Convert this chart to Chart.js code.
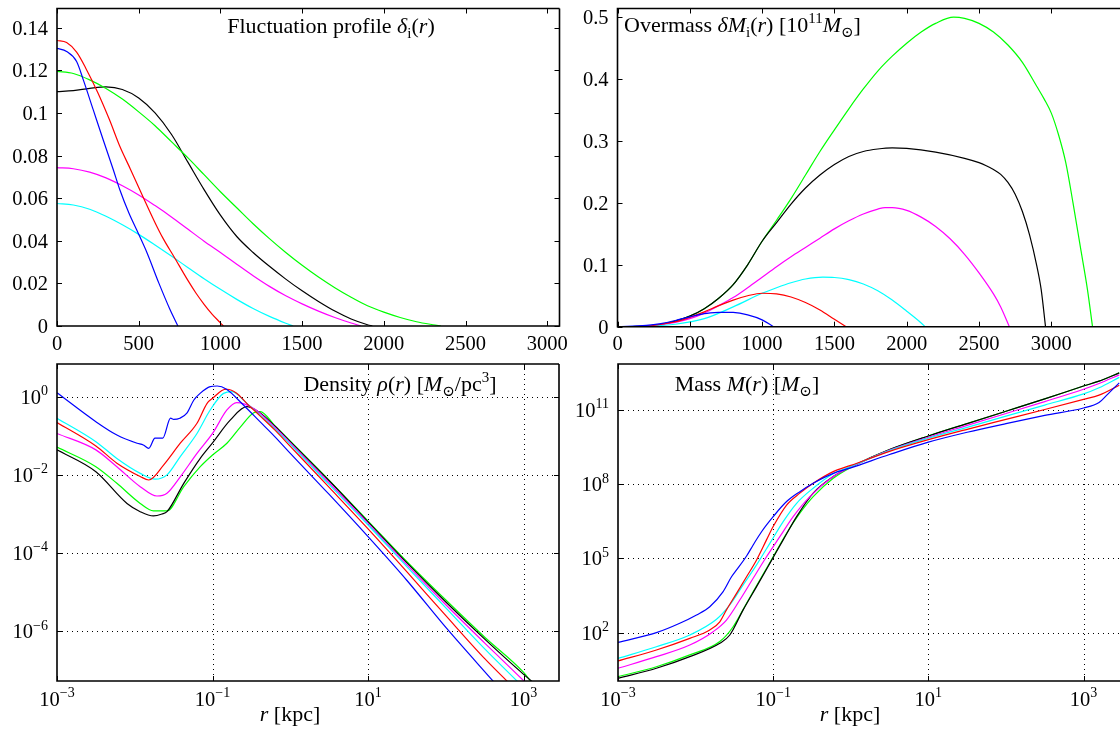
<!DOCTYPE html>
<html>
<head>
<meta charset="utf-8">
<script src="https://cdn.jsdelivr.net/npm/chart.js@4.4.1/dist/chart.umd.min.js"></script>
<style>
  body { margin: 0; background: #fff; width: 1120px; height: 729px; overflow: hidden; position: relative; }
  canvas { position: absolute; }
</style>
</head>
<body>
<canvas id="fluct" width="600" height="360" style="left:0;top:0"></canvas>
<canvas id="over" width="558" height="360" style="left:562px;top:0"></canvas>
<canvas id="dens" width="562" height="369" style="left:0;top:360px"></canvas>
<canvas id="mass" width="558" height="369" style="left:562px;top:360px"></canvas>
<script>
// ---- fluctuation profile delta_i(r), r in kpc ----
const fluctBlueR = [0, 59, 120, 161, 222, 283, 345, 385, 440, 488, 550, 624, 690, 740];
const fluctBlue = [0.1303, 0.1288, 0.1241, 0.1155, 0.1014, 0.0873, 0.0732, 0.0638, 0.053, 0.045, 0.0345, 0.02, 0.008, 0];
const fluctRedR = [0, 59, 120, 176, 250, 320, 385, 450, 526, 600, 650, 716, 800, 850, 900, 950, 1000, 1018];
const fluctRed = [0.134, 0.133, 0.1285, 0.121, 0.1095, 0.097, 0.0842, 0.0735, 0.0607, 0.0485, 0.041, 0.0325, 0.0215, 0.0155, 0.0102, 0.0055, 0.0015, 0];
const fluctGreenR = [0, 100, 200, 300, 400, 500, 600, 700, 800, 900, 1000, 1100, 1200, 1300, 1400, 1500, 1600, 1700, 1800, 1900, 2000, 2100, 2200, 2300, 2350];
const fluctGreen = [0.1195, 0.1185, 0.1155, 0.1115, 0.1065, 0.1005, 0.094, 0.0865, 0.079, 0.071, 0.063, 0.0555, 0.048, 0.041, 0.0345, 0.0285, 0.023, 0.018, 0.0135, 0.0095, 0.0065, 0.004, 0.002, 0.0006, 0];
const fluctBlackR = [0, 100, 200, 300, 400, 500, 600, 700, 800, 900, 1000, 1100, 1200, 1300, 1400, 1500, 1600, 1700, 1800, 1900, 1930];
const fluctBlack = [0.110, 0.1105, 0.1115, 0.1122, 0.111, 0.107, 0.100, 0.090, 0.077, 0.064, 0.052, 0.042, 0.0345, 0.028, 0.022, 0.0165, 0.0115, 0.007, 0.0033, 0.0006, 0];
const fluctMagentaR = [0, 100, 200, 300, 400, 500, 600, 700, 800, 900, 1000, 1100, 1200, 1300, 1400, 1500, 1600, 1700, 1800, 1860];
const fluctMagenta = [0.0743, 0.0738, 0.0722, 0.0695, 0.0658, 0.0615, 0.0565, 0.0512, 0.0455, 0.0398, 0.0345, 0.029, 0.0236, 0.0186, 0.0142, 0.0104, 0.007, 0.004, 0.0014, 0];
const fluctCyanR = [0, 100, 200, 300, 400, 500, 600, 700, 800, 900, 1000, 1100, 1200, 1300, 1400, 1445];
const fluctCyan = [0.0575, 0.0568, 0.0548, 0.0515, 0.0475, 0.043, 0.038, 0.0328, 0.0275, 0.0222, 0.0172, 0.0125, 0.0082, 0.0045, 0.0013, 0];
const fluctXTicks = [0, 500, 1000, 1500, 2000, 2500, 3000];
const fluctYTicks = [0, 0.02, 0.04, 0.06, 0.08, 0.1, 0.12, 0.14];
const fluctYLabels = ["0", "0.02", "0.04", "0.06", "0.08", "0.1", "0.12", "0.14"];

// ---- overmass dM_i(r) in 1e11 Msun ----
const overBlueR = [0, 200, 300, 400, 500, 600, 700, 750, 800, 900, 1000, 1079];
const overBlue = [0, 0.002, 0.005, 0.01, 0.016, 0.021, 0.023, 0.0232, 0.023, 0.019, 0.011, 0];
const overRedR = [0, 200, 400, 500, 600, 700, 800, 900, 1000, 1100, 1200, 1300, 1400, 1500, 1581];
const overRed = [0, 0.001, 0.008, 0.015, 0.024, 0.034, 0.043, 0.05, 0.054, 0.053, 0.048, 0.039, 0.027, 0.012, 0];
const overGreenR = [0, 100, 200, 300, 400, 500, 600, 700, 800, 900, 1000, 1100, 1200, 1300, 1400, 1500, 1600, 1700, 1800, 1900, 2000, 2100, 2200, 2325, 2400, 2500, 2600, 2700, 2800, 2900, 2950, 3000, 3050, 3100, 3150, 3200, 3250, 3285];
const overGreen = [0, 0.0003, 0.0015, 0.004, 0.009, 0.017, 0.029, 0.046, 0.068, 0.1, 0.138, 0.172, 0.207, 0.245, 0.283, 0.318, 0.352, 0.384, 0.413, 0.437, 0.458, 0.476, 0.49, 0.5, 0.498, 0.49, 0.476, 0.455, 0.427, 0.388, 0.368, 0.345, 0.31, 0.265, 0.2, 0.13, 0.06, 0];
const overBlackR = [0, 100, 200, 300, 400, 500, 600, 700, 800, 900, 1000, 1100, 1200, 1300, 1400, 1500, 1600, 1700, 1800, 1900, 2000, 2200, 2400, 2500, 2550, 2600, 2650, 2700, 2750, 2800, 2850, 2900, 2930, 2960];
const overBlack = [0, 0.0003, 0.0015, 0.004, 0.009, 0.017, 0.029, 0.046, 0.068, 0.1, 0.138, 0.168, 0.198, 0.224, 0.245, 0.262, 0.275, 0.283, 0.287, 0.2888, 0.288, 0.282, 0.272, 0.265, 0.26, 0.254, 0.246, 0.233, 0.214, 0.186, 0.148, 0.098, 0.06, 0];
const overMagentaR = [0, 200, 400, 500, 600, 700, 800, 900, 1000, 1100, 1200, 1300, 1400, 1500, 1600, 1700, 1800, 1850, 1900, 2000, 2100, 2200, 2300, 2400, 2500, 2600, 2650, 2710];
const overMagenta = [0, 0.001, 0.007, 0.013, 0.022, 0.034, 0.047, 0.063, 0.08, 0.097, 0.113, 0.128, 0.143, 0.158, 0.171, 0.182, 0.19, 0.1925, 0.1925, 0.188, 0.177, 0.162, 0.142, 0.117, 0.087, 0.053, 0.032, 0];
const overCyanR = [0, 200, 400, 600, 800, 1000, 1100, 1200, 1300, 1420, 1500, 1600, 1700, 1800, 1900, 2000, 2100, 2127];
const overCyan = [0, 0.0008, 0.004, 0.013, 0.032, 0.054, 0.063, 0.071, 0.077, 0.08, 0.0795, 0.076, 0.069, 0.058, 0.043, 0.025, 0.006, 0];
const overXTicks = [0, 500, 1000, 1500, 2000, 2500, 3000];
const overYTicks = [0, 0.1, 0.2, 0.3, 0.4, 0.5];
const overYLabels = ["0", "0.1", "0.2", "0.3", "0.4", "0.5"];

// ---- density rho(r) [Msun/pc^3], stored as log10 r [kpc] and log10 rho ----
const densBlueLogR = [-3.0, -2.5, -2.23, -1.97, -1.89, -1.82, -1.74, -1.64, -1.54, -1.5, -1.42, -1.33, -1.24, -1.16, -1.03, -0.94, -0.82, -0.6, -0.4, -0.2, 0, 0.5, 1, 1.5, 2, 2.62];
const densBlueLog = [0.10, -0.64, -0.98, -1.19, -1.235, -1.32, -1.06, -1.06, -0.55, -0.58, -0.55, -0.42, -0.085, 0.085, 0.256, 0.273, 0.19, -0.22, -0.62, -1.02, -1.45, -2.5, -3.58, -4.7, -5.9, -7.3];
const densRedLogR = [-3.0, -2.5, -2.23, -1.93, -1.82, -1.63, -1.415, -1.2, -1.07, -0.987, -0.88, -0.815, -0.69, -0.56, -0.4, -0.2, 0, 0.5, 1, 1.5, 2, 2.5, 2.8];
const densRedLog = [-0.66, -1.26, -1.7, -2.04, -2.13, -1.75, -1.19, -0.68, -0.17, -0.02, 0.16, 0.19, 0.09, -0.17, -0.47, -0.85, -1.27, -2.32, -3.38, -4.48, -5.6, -6.7, -7.3];
const densCyanLogR = [-3.0, -2.5, -2.23, -1.93, -1.736, -1.586, -1.415, -1.2, -1.03, -0.858, -0.75, -0.56, -0.4, -0.2, 0, 0.5, 1, 1.5, 2, 2.5, 2.93];
const densCyanLog = [-0.55, -1.15, -1.58, -1.96, -2.11, -2.0, -1.53, -0.94, -0.34, 0.085, 0.128, -0.17, -0.45, -0.82, -1.22, -2.25, -3.28, -4.35, -5.4, -6.45, -7.3];
const densMagentaLogR = [-3.0, -2.5, -2.23, -1.93, -1.715, -1.586, -1.415, -1.2, -1.0, -0.815, -0.69, -0.47, -0.2, 0, 0.5, 1, 1.5, 2, 2.5, 3.02];
const densMagentaLog = [-0.94, -1.36, -1.79, -2.3, -2.54, -2.47, -2.05, -1.45, -0.94, -0.34, -0.15, -0.30, -0.78, -1.18, -2.2, -3.24, -4.3, -5.32, -6.3, -7.3];
const densGreenLogR = [-3.0, -2.5, -2.23, -1.93, -1.76, -1.586, -1.37, -1.158, -1.0, -0.815, -0.64, -0.47, -0.387, -0.2, 0, 0.5, 1, 1.5, 2, 2.5, 3, 3.1];
const densGreenLog = [-1.29, -1.79, -2.215, -2.73, -2.92, -2.92, -2.3, -1.79, -1.49, -1.19, -0.77, -0.41, -0.38, -0.74, -1.14, -2.14, -3.18, -4.22, -5.2, -6.15, -7.05, -7.3];
const densBlackLogR = [-3.0, -2.5, -2.1, -1.93, -1.76, -1.65, -1.586, -1.37, -1.158, -1.0, -0.773, -0.56, -0.4, -0.2, 0, 0.5, 1, 1.5, 2, 2.5, 3, 3.12];
const densBlackLog = [-1.36, -1.92, -2.73, -2.94, -3.05, -3.0, -2.94, -2.215, -1.575, -1.18, -0.6, -0.255, -0.4, -0.75, -1.15, -2.15, -3.2, -4.25, -5.25, -6.2, -7.1, -7.3];
const densXExp = [-3, -1, 1, 3];
const densYExp = [-6, -4, -2, 0];

// ---- enclosed mass M(r) [Msun], stored as log10 r [kpc] and log10 M ----
const massBlueLogR = [-3.0, -2.505, -2.204, -1.988, -1.817, -1.645, -1.537, -1.472, -1.343, -1.258, -1.15, -1.0, -0.827, -0.656, -0.484, -0.226, 0, 0.5, 1, 1.5, 2, 2.5, 3, 3.2, 3.3, 3.46];
const massBlueLog = [1.61, 2.0, 2.38, 2.715, 3.05, 3.66, 4.26, 4.535, 5.1, 5.545, 6.08, 6.69, 7.3, 7.7, 8.04, 8.44, 8.66, 9.2, 9.7, 10.1, 10.45, 10.78, 11.08, 11.3, 11.6, 12.1];
const massRedLogR = [-3.0, -2.505, -2.075, -1.817, -1.688, -1.602, -1.472, -1.343, -1.214, -1.086, -1.0, -0.827, -0.656, -0.484, -0.226, 0, 0.5, 1, 1.5, 2, 2.5, 3, 3.2, 3.46];
const massRedLog = [0.855, 1.3, 1.77, 2.11, 2.44, 2.92, 3.59, 4.26, 4.94, 5.75, 6.29, 7.16, 7.64, 8.04, 8.51, 8.76, 9.33, 9.8, 10.22, 10.62, 11.02, 11.43, 11.6, 12.0];
const massCyanLogR = [-3.0, -2.505, -2.075, -1.73, -1.559, -1.387, -1.214, -1.043, -0.871, -0.698, -0.484, -0.226, 0, 0.5, 1, 1.5, 2, 2.5, 3, 3.2, 3.46];
const massCyanLog = [0.96, 1.43, 1.905, 2.54, 3.12, 3.93, 4.74, 5.61, 6.49, 7.23, 7.84, 8.42, 8.72, 9.36, 9.86, 10.3, 10.75, 11.2, 11.65, 11.9, 12.32];
const massMagentaLogR = [-3.0, -2.505, -2.075, -1.774, -1.602, -1.43, -1.258, -1.086, -0.914, -0.742, -0.527, -0.226, 0, 0.5, 1, 1.5, 2, 2.5, 3, 3.2, 3.46];
const massMagentaLog = [0.56, 1.03, 1.5, 2.04, 2.51, 3.32, 4.2, 5.07, 5.88, 6.69, 7.5, 8.31, 8.69, 9.38, 9.9, 10.38, 10.86, 11.34, 11.84, 12.07, 12.42];
const massGreenLogR = [-3.0, -2.505, -2.075, -1.688, -1.516, -1.343, -1.172, -1.0, -0.827, -0.656, -0.484, -0.226, 0, 0.5, 1, 1.5, 2, 2.5, 3, 3.2, 3.46];
const massGreenLog = [0.22, 0.62, 1.1, 1.64, 2.24, 3.19, 4.13, 5.07, 6.02, 6.83, 7.5, 8.24, 8.68, 9.4, 9.95, 10.45, 10.95, 11.45, 11.97, 12.17, 12.5];
const massBlackLogR = [-3.0, -2.505, -2.075, -1.688, -1.559, -1.387, -1.214, -1.043, -0.871, -0.698, -0.484, -0.226, 0, 0.5, 1, 1.5, 2, 2.5, 3, 3.2, 3.46];
const massBlackLog = [0.155, 0.56, 1.03, 1.57, 1.905, 2.92, 3.86, 4.8, 5.75, 6.69, 7.64, 8.31, 8.7, 9.4, 9.95, 10.45, 10.95, 11.45, 11.97, 12.17, 12.5];
const massXExp = [-3, -1, 1, 3];
const massYExp = [2, 5, 8, 11];

const COLORS = { blue: "#0000ff", red: "#ff0000", green: "#00ff00", black: "#000000", magenta: "#ff00ff", cyan: "#00ffff" };
const FONT = '"Liberation Serif", "DejaVu Serif", serif';
const TICK_SIZE = 20.5;
const TITLE_SIZE = 22;

function pts(xs, ys) {
  return xs.map((x, i) => ({ x: x, y: ys[i] }));
}
function logPts(lx, ly) {
  return lx.map((x, i) => ({ x: Math.pow(10, x), y: Math.pow(10, ly[i]) }));
}
function line(color, data) {
  return {
    data: data, borderColor: color, borderWidth: 1.2, pointRadius: 0,
    fill: false, cubicInterpolationMode: "monotone"
  };
}

// draw text made of pieces: [text, style] with style "", "i", "sub", "sup"
function rich(ctx, segs, x, y, align, size) {
  const small = Math.round(size * 0.7);
  const font = s => (s[1] === "i" ? "italic " : "") + (s[1] === "sub" || s[1] === "sup" ? small : size) + "px " + FONT;
  let w = 0;
  segs.forEach(s => { ctx.font = font(s); w += ctx.measureText(s[0]).width; });
  let cx = align === "center" ? x - w / 2 : align === "right" ? x - w : x;
  ctx.textAlign = "left";
  ctx.textBaseline = "alphabetic";
  segs.forEach(s => {
    ctx.font = font(s);
    const dy = s[1] === "sub" ? size * 0.22 : s[1] === "sup" ? -size * 0.42 : 0;
    ctx.fillText(s[0], cx, y + dy);
    cx += ctx.measureText(s[0]).width;
  });
}

const pow10Label = e => [["10", ""], [(e < 0 ? "\u2212" + (-e) : String(e)), "sup"]];

// frame, inward ticks, dotted grid, labels and titles (matplotlib look)
function axesPlugin(d) {
  return {
    id: "axes",
    beforeDatasetsDraw(chart) {
      if (!d.grid) return;
      const { ctx, chartArea: a } = chart;
      const xs = chart.scales.x, ys = chart.scales.y;
      ctx.save();
      ctx.strokeStyle = "#000";
      ctx.lineWidth = 1;
      ctx.setLineDash([1, 4]);
      ctx.beginPath();
      d.xTicks.forEach(v => {
        const p = Math.round(xs.getPixelForValue(v)) + 0.5;
        if (p > a.left + 2 && p < a.right - 2) { ctx.moveTo(p, a.top); ctx.lineTo(p, a.bottom); }
      });
      d.yTicks.forEach(v => {
        const p = Math.round(ys.getPixelForValue(v)) + 0.5;
        if (p > a.top + 2 && p < a.bottom - 2) { ctx.moveTo(a.left, p); ctx.lineTo(a.right, p); }
      });
      ctx.stroke();
      ctx.restore();
    },
    afterDatasetsDraw(chart) {
      const { ctx, chartArea: a } = chart;
      const xs = chart.scales.x, ys = chart.scales.y;
      ctx.save();
      ctx.strokeStyle = "#000";
      ctx.fillStyle = "#000";
      ctx.lineWidth = 1.6;
      ctx.beginPath();
      ctx.moveTo(a.right + (d.cut ? 2 : 0), a.top);
      ctx.lineTo(a.left, a.top);
      ctx.lineTo(a.left, a.bottom);
      ctx.lineTo(a.right + (d.cut ? 2 : 0), a.bottom);
      if (!d.cut) ctx.lineTo(a.right, a.top);
      ctx.stroke();
      ctx.lineWidth = 1;
      ctx.beginPath();
      d.xTicks.forEach(v => {
        const p = Math.round(xs.getPixelForValue(v)) + 0.5;
        if (p < a.left || p > a.right) return;
        ctx.moveTo(p, a.bottom); ctx.lineTo(p, a.bottom - 5);
        ctx.moveTo(p, a.top); ctx.lineTo(p, a.top + 5);
      });
      d.yTicks.forEach(v => {
        const p = Math.round(ys.getPixelForValue(v)) + 0.5;
        ctx.moveTo(a.left, p); ctx.lineTo(a.left + 5, p);
        if (!d.cut) { ctx.moveTo(a.right, p); ctx.lineTo(a.right - 5, p); }
      });
      ctx.stroke();
      d.xTicks.forEach((v, i) => {
        rich(ctx, d.xLabels[i], xs.getPixelForValue(v), a.bottom + d.xLabelDy, "center", TICK_SIZE);
      });
      d.yTicks.forEach((v, i) => {
        rich(ctx, d.yLabels[i], a.left - 9, ys.getPixelForValue(v) + TICK_SIZE * 0.34, "right", TICK_SIZE);
      });
      rich(ctx, d.title, d.titleX, d.titleY, d.titleAlign, TITLE_SIZE);
      if (d.xTitle) rich(ctx, d.xTitle, d.xTitleX, d.xTitleY, "center", TITLE_SIZE);
      ctx.restore();
    }
  };
}

function makePanel(id, scales, padding, datasets, deco) {
  return new Chart(document.getElementById(id), {
    type: "line",
    data: { datasets: datasets },
    options: {
      responsive: false,
      animation: false,
      events: [],
      layout: { padding: padding },
      scales: scales,
      plugins: { legend: { display: false }, tooltip: { enabled: false } }
    },
    plugins: [axesPlugin(deco)]
  });
}

const rTitle = [["r", "i"], [" [kpc]", ""]];

makePanel("fluct",
  { x: { type: "linear", min: 0, max: 3075, display: false },
    y: { type: "linear", min: 0, max: 0.149, display: false } },
  { left: 57, top: 8.5, right: 40.5, bottom: 34 },
  [
    line(COLORS.blue, pts(fluctBlueR, fluctBlue)),
    line(COLORS.red, pts(fluctRedR, fluctRed)),
    line(COLORS.green, pts(fluctGreenR, fluctGreen)),
    line(COLORS.black, pts(fluctBlackR, fluctBlack)),
    line(COLORS.magenta, pts(fluctMagentaR, fluctMagenta)),
    line(COLORS.cyan, pts(fluctCyanR, fluctCyan))
  ],
  {
    xTicks: fluctXTicks, xLabels: fluctXTicks.map(v => [[String(v), ""]]), xLabelDy: 23.5,
    yTicks: fluctYTicks, yLabels: fluctYLabels.map(s => [[s, ""]]),
    title: [["Fluctuation profile ", ""], ["\u03b4", "i"], ["i", "sub"], ["(", ""], ["r", "i"], [")", ""]],
    titleX: 331, titleY: 33, titleAlign: "center"
  });

makePanel("over",
  { x: { type: "linear", min: 0, max: 3475, display: false },
    y: { type: "linear", min: 0, max: 0.514, display: false } },
  { left: 55.5, top: 8.5, right: 0, bottom: 33.3 },
  [
    line(COLORS.blue, pts(overBlueR, overBlue)),
    line(COLORS.red, pts(overRedR, overRed)),
    line(COLORS.cyan, pts(overCyanR, overCyan)),
    line(COLORS.magenta, pts(overMagentaR, overMagenta)),
    line(COLORS.black, pts(overBlackR, overBlack)),
    line(COLORS.green, pts(overGreenR, overGreen))
  ],
  {
    cut: true,
    xTicks: overXTicks, xLabels: overXTicks.map(v => [[String(v), ""]]), xLabelDy: 23.5,
    yTicks: overYTicks, yLabels: overYLabels.map(s => [[s, ""]]),
    title: [["Overmass ", ""], ["\u03b4M", "i"], ["i", "sub"], ["(", ""], ["r", "i"], [") [10", ""], ["11", "sup"], ["M", "i"], ["\u2299", "sub"], ["]", ""]],
    titleX: 62, titleY: 32, titleAlign: "left"
  });

makePanel("dens",
  { x: { type: "logarithmic", min: 1e-3, max: Math.pow(10, 3.455), display: false },
    y: { type: "logarithmic", min: Math.pow(10, -7.27), max: Math.pow(10, 0.836), display: false } },
  { left: 57, top: 4, right: 3, bottom: 48 },
  [
    line(COLORS.blue, logPts(densBlueLogR, densBlueLog)),
    line(COLORS.red, logPts(densRedLogR, densRedLog)),
    line(COLORS.cyan, logPts(densCyanLogR, densCyanLog)),
    line(COLORS.magenta, logPts(densMagentaLogR, densMagentaLog)),
    line(COLORS.black, logPts(densBlackLogR, densBlackLog)),
    line(COLORS.green, logPts(densGreenLogR, densGreenLog))
  ],
  {
    grid: true,
    xTicks: densXExp.map(e => Math.pow(10, e)), xLabels: densXExp.map(pow10Label), xLabelDy: 25,
    yTicks: densYExp.map(e => Math.pow(10, e)), yLabels: densYExp.map(pow10Label),
    title: [["Density ", ""], ["\u03c1", "i"], ["(", ""], ["r", "i"], [") [", ""], ["M", "i"], ["\u2299", "sub"], ["/pc", ""], ["3", "sup"], ["]", ""]],
    titleX: 400, titleY: 31, titleAlign: "center",
    xTitle: rTitle, xTitleX: 290, xTitleY: 361
  });

makePanel("mass",
  { x: { type: "logarithmic", min: 1e-3, max: Math.pow(10, 3.47), display: false },
    y: { type: "logarithmic", min: Math.pow(10, 0.046), max: Math.pow(10, 12.86), display: false } },
  { left: 56, top: 4, right: 0, bottom: 48 },
  [
    line(COLORS.blue, logPts(massBlueLogR, massBlueLog)),
    line(COLORS.red, logPts(massRedLogR, massRedLog)),
    line(COLORS.cyan, logPts(massCyanLogR, massCyanLog)),
    line(COLORS.magenta, logPts(massMagentaLogR, massMagentaLog)),
    line(COLORS.black, logPts(massBlackLogR, massBlackLog)),
    line(COLORS.green, logPts(massGreenLogR, massGreenLog))
  ],
  {
    grid: true, cut: true,
    xTicks: massXExp.map(e => Math.pow(10, e)), xLabels: massXExp.map(pow10Label), xLabelDy: 25,
    yTicks: massYExp.map(e => Math.pow(10, e)), yLabels: massYExp.map(pow10Label),
    title: [["Mass ", ""], ["M", "i"], ["(", ""], ["r", "i"], [") [", ""], ["M", "i"], ["\u2299", "sub"], ["]", ""]],
    titleX: 185, titleY: 31, titleAlign: "center",
    xTitle: rTitle, xTitleX: 288, xTitleY: 361
  });
</script>
</body>
</html>
